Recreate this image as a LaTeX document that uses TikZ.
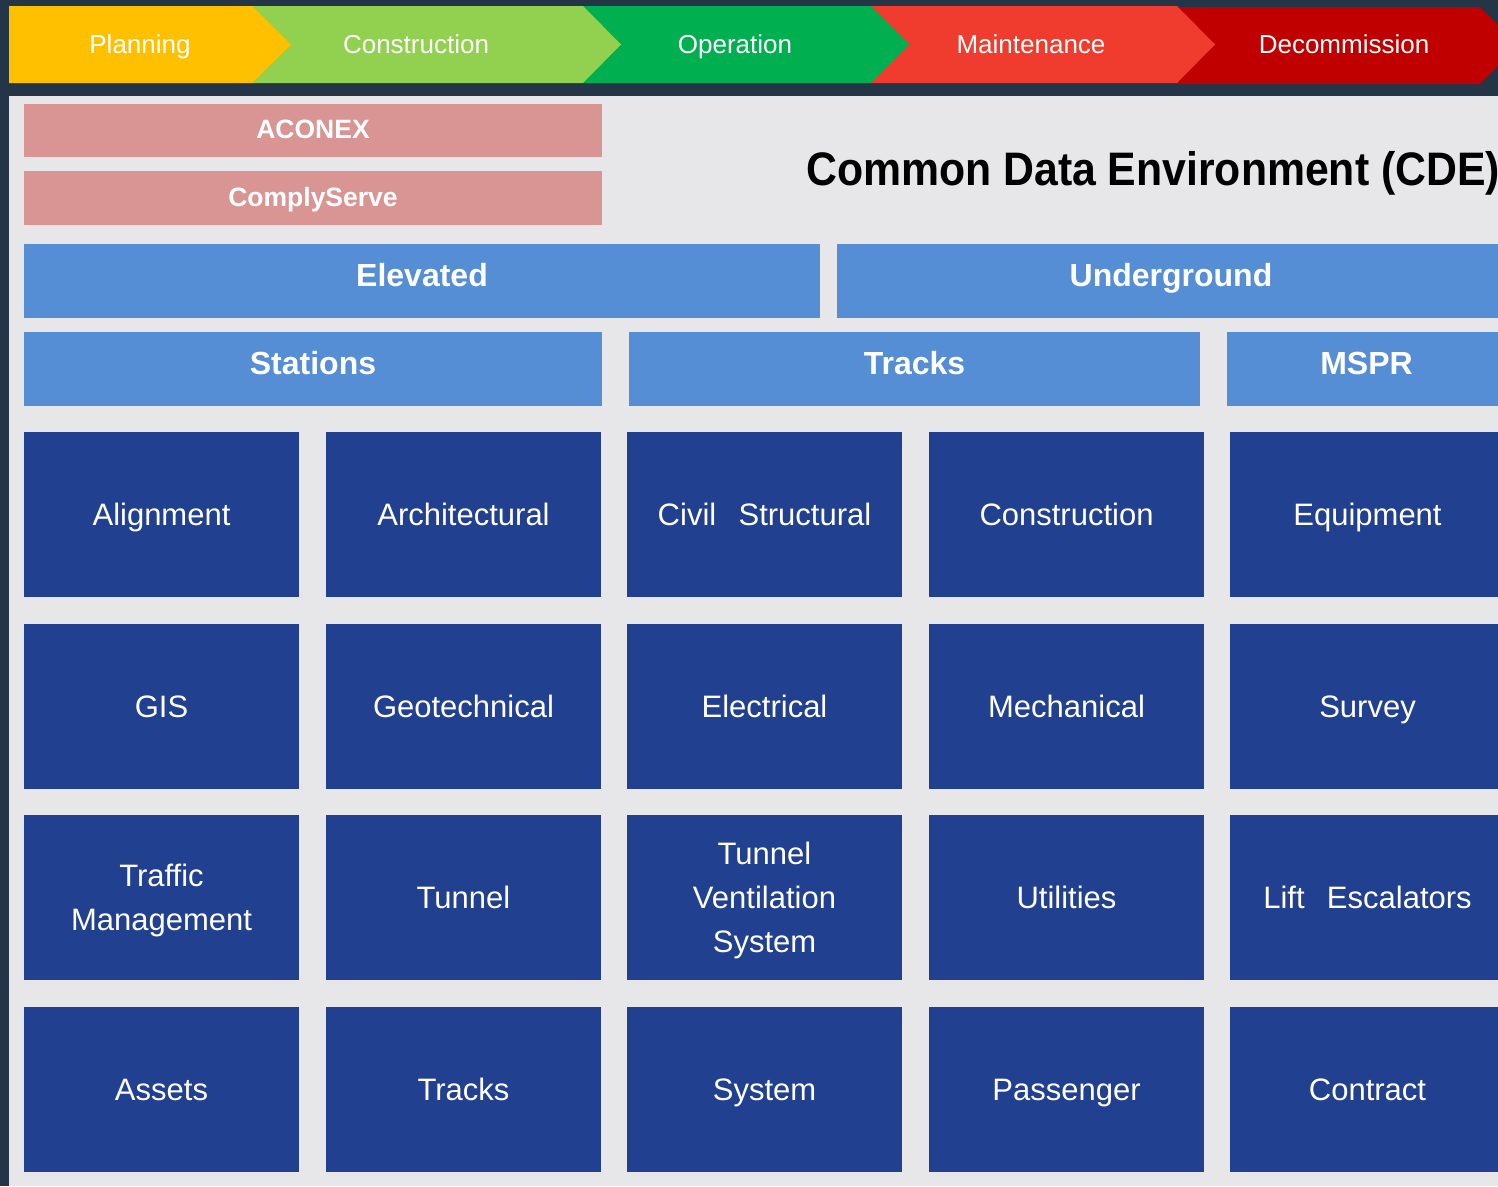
\documentclass[tikz,border=0pt]{standalone}
\usepackage{fontspec}
\setmainfont{Liberation Sans}

\definecolor{darkbg}{RGB}{35,53,71}
\definecolor{panel}{RGB}{231,231,233}
\definecolor{plangold}{RGB}{255,192,0}
\definecolor{buildgreen}{RGB}{146,208,80}
\definecolor{opgreen}{RGB}{0,176,80}
\definecolor{maintred}{RGB}{240,60,46}
\definecolor{decomred}{RGB}{192,0,0}
\definecolor{toolpink}{RGB}{217,149,148}
\definecolor{bandblue}{RGB}{85,142,213}
\definecolor{cellblue}{RGB}{33,64,143}

\begin{document}
\begin{tikzpicture}[x=1pt, y=-1pt,
    phase/.style={text=white, text height=23.4pt, text depth=4.8pt,
        font=\fontsize{26}{30}\selectfont},
    tool/.style={fill=toolpink, text=white, inner sep=0pt, minimum width=578pt,
        text height=20pt, text depth=4pt, font=\bfseries\fontsize{26.5}{30}\selectfont},
    band/.style={fill=bandblue, text=white, inner sep=0pt, minimum height=74pt,
        text height=20pt, text depth=9pt, font=\bfseries\fontsize{32}{36}\selectfont},
    cell/.style={fill=cellblue, text=white, inner sep=0pt, minimum width=275pt,
        minimum height=165pt, text height=28pt, text depth=5.8pt,
        font=\fontsize{31}{44}\selectfont},
    twoline/.style={cell, text height=, text depth=}]
    \useasboundingbox (0,0) rectangle (1498,1186);
    \clip (0,0) rectangle (1498,1186);
    \fill[darkbg] (0,0) rectangle (1498,1186);
    \fill[panel] (9,96) rectangle (1498,1186);
    % life cycle chevrons, drawn right to left so each tip lies on the next one
    \fill[decomred] (1177,7) -- (1480,7) -- (1518,45.5) -- (1480,84) -- (1177,84) -- cycle;
    \fill[maintred] (871,6) -- (1177,6) -- (1215,44.5) -- (1177,83) -- (871,83) -- cycle;
    \fill[opgreen] (583,6) -- (871,6) -- (909,44.5) -- (871,83) -- (583,83) -- cycle;
    \fill[buildgreen] (252,6) -- (583,6) -- (621,44.5) -- (583,83) -- (252,83) -- cycle;
    \fill[plangold] (9,6) -- (252,6) -- (291,44.5) -- (252,83) -- (9,83) -- cycle;
    \node[phase] (planning) at (140,44.5) {Planning};
    \node[phase] (construction) at (416,44.5) {Construction};
    \node[phase] (operation) at (735,44.5) {Operation};
    \node[phase] (maintenance) at (1031,44.5) {Maintenance};
    \node[phase] (decommission) at (1344,44.5) {Decommission};
    % tools and title
    \node[tool, minimum height=53pt] (aconex) at (313,130.5) {ACONEX};
    \node[tool, minimum height=54pt] (complyserve) at (313,198) {ComplyServe};
    \node[anchor=west, xscale=0.91, transform shape, inner sep=0pt,
        font=\bfseries\fontsize{47}{50}\selectfont] (cde) at (806,173.5) {Common Data Environment (CDE)};
    % bands
    \node[band, minimum width=796pt] (elevated) at (422,281) {Elevated};
    \node[band, minimum width=668pt] (underground) at (1171,281) {Underground};
    \node[band, minimum width=578pt] (stations) at (313,369) {Stations};
    \node[band, minimum width=571pt] (tracksband) at (914.5,369) {Tracks};
    \node[band, minimum width=279pt] (mspr) at (1366.5,369) {MSPR};
    % disciplines
    \node[cell] (alignment) at (161.5,514.5) {Alignment};
    \node[cell] (architectural) at (463.5,514.5) {Architectural};
    \node[cell] (civil) at (764.5,514.5) {Civil\hspace{0.72em}Structural};
    \node[cell] (constructioncell) at (1066.5,514.5) {Construction};
    \node[cell] (equipment) at (1367.5,514.5) {Equipment};
    \node[cell] (gis) at (161.5,706.5) {GIS};
    \node[cell] (geotechnical) at (463.5,706.5) {Geotechnical};
    \node[cell] (electrical) at (764.5,706.5) {Electrical};
    \node[cell] (mechanical) at (1066.5,706.5) {Mechanical};
    \node[cell] (survey) at (1367.5,706.5) {Survey};
    \node[twoline] (traffic) at (161.5,897.5)
        {\begin{tabular}{@{}c@{}}\rule{0pt}{35pt}Traffic\\Management\end{tabular}};
    \node[cell] (tunnel) at (463.5,897.5) {Tunnel};
    \node[twoline] (ventilation) at (764.5,897.5)
        {\begin{tabular}{@{}c@{}}\rule{0pt}{35pt}Tunnel\\Ventilation\\System\end{tabular}};
    \node[cell] (utilities) at (1066.5,897.5) {Utilities};
    \node[cell] (lift) at (1367.5,897.5) {Lift\hspace{0.72em}Escalators};
    \node[cell] (assets) at (161.5,1089.5) {Assets};
    \node[cell] (trackscell) at (463.5,1089.5) {Tracks};
    \node[cell] (system) at (764.5,1089.5) {System};
    \node[cell] (passenger) at (1066.5,1089.5) {Passenger};
    \node[cell] (contract) at (1367.5,1089.5) {Contract};
\end{tikzpicture}
\end{document}
